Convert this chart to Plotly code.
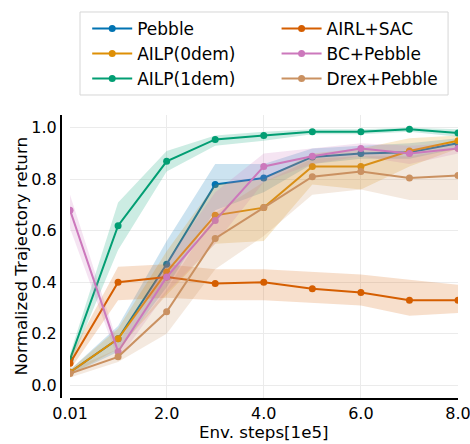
import plotly.graph_objects as go

steps = [0.01, 1, 2, 3, 4, 5, 6, 7, 8]

names = ["Pebble", "AILP(0dem)", "AILP(1dem)", "AIRL+SAC", "BC+Pebble", "Drex+Pebble"]
colors = ["#0173b2", "#de8f05", "#029e73", "#d55e00", "#cc78bc", "#ca9161"]
fills = ["rgba(1,115,178,0.2)", "rgba(222,143,5,0.2)", "rgba(2,158,115,0.2)",
         "rgba(213,94,0,0.2)", "rgba(204,120,188,0.2)", "rgba(202,145,97,0.2)"]

pebble = [0.05, 0.18, 0.47, 0.78, 0.805, 0.887, 0.90, 0.905, 0.94]
pebble_lo = [0.04, 0.13, 0.38, 0.68, 0.75, 0.86, 0.88, 0.88, 0.92]
pebble_hi = [0.06, 0.23, 0.56, 0.86, 0.86, 0.92, 0.93, 0.94, 0.96]

ailp0 = [0.05, 0.18, 0.44, 0.66, 0.69, 0.85, 0.85, 0.91, 0.95]
ailp0_lo = [0.04, 0.14, 0.35, 0.55, 0.56, 0.78, 0.76, 0.85, 0.92]
ailp0_hi = [0.06, 0.22, 0.52, 0.78, 0.80, 0.90, 0.92, 0.96, 0.97]

ailp1 = [0.10, 0.62, 0.87, 0.955, 0.97, 0.985, 0.985, 0.995, 0.98]
ailp1_lo = [0.08, 0.525, 0.83, 0.93, 0.95, 0.975, 0.975, 0.985, 0.965]
ailp1_hi = [0.12, 0.71, 0.91, 0.97, 0.985, 0.995, 0.995, 1.0, 0.995]

airl = [0.085, 0.40, 0.42, 0.395, 0.40, 0.375, 0.36, 0.33, 0.33]
airl_lo = [0.06, 0.33, 0.34, 0.33, 0.33, 0.32, 0.31, 0.27, 0.28]
airl_hi = [0.11, 0.46, 0.47, 0.45, 0.45, 0.44, 0.43, 0.41, 0.39]

bc = [0.68, 0.13, 0.42, 0.64, 0.85, 0.89, 0.92, 0.90, 0.92]
bc_lo = [0.61, 0.10, 0.36, 0.55, 0.79, 0.86, 0.89, 0.86, 0.90]
bc_hi = [0.74, 0.16, 0.48, 0.75, 0.90, 0.92, 0.94, 0.93, 0.94]

drex = [0.045, 0.11, 0.285, 0.57, 0.69, 0.81, 0.83, 0.805, 0.815]
drex_lo = [0.03, 0.09, 0.20, 0.45, 0.58, 0.74, 0.76, 0.72, 0.72]
drex_hi = [0.06, 0.14, 0.37, 0.67, 0.79, 0.88, 0.89, 0.89, 0.92]

series = [
    (pebble, pebble_lo, pebble_hi),
    (ailp0, ailp0_lo, ailp0_hi),
    (ailp1, ailp1_lo, ailp1_hi),
    (airl, airl_lo, airl_hi),
    (bc, bc_lo, bc_hi),
    (drex, drex_lo, drex_hi),
]
# first three methods in the left legend column, the rest in the right one
legend_cols = ["legend", "legend", "legend", "legend2", "legend2", "legend2"]

x_ticks = [0.01, 2, 4, 6, 8]
x_ticktext = ["0.01", "2.0", "4.0", "6.0", "8.0"]
y_ticks = [0.0, 0.2, 0.4, 0.6, 0.8, 1.0]

x_title = "Env. steps[1e5]"
y_title = "Normalized Trajectory return"

fig = go.Figure()
for name, color, fill, (mean, lo, hi), lg in zip(names, colors, fills, series, legend_cols):
    fig.add_trace(go.Scatter(x=steps, y=lo, mode="lines", line=dict(width=0),
                             showlegend=False, hoverinfo="skip"))
    fig.add_trace(go.Scatter(x=steps, y=hi, mode="lines", line=dict(width=0),
                             fill="tonexty", fillcolor=fill,
                             showlegend=False, hoverinfo="skip"))
    fig.add_trace(go.Scatter(x=steps, y=mean, mode="lines+markers", name=name,
                             line=dict(color=color, width=2),
                             marker=dict(color=color, size=7),
                             legend=lg, legendgroup=name))

legend_style = dict(
    xanchor="left", yanchor="top", orientation="v",
    traceorder="grouped", tracegroupgap=0,
    bgcolor="rgba(0,0,0,0)", borderwidth=0,
    font=dict(size=17), itemwidth=40,
)

fig.update_layout(
    template="none",
    width=470, height=444,
    margin=dict(l=61, r=12, t=115, b=46, autoexpand=False),
    paper_bgcolor="white", plot_bgcolor="white",
    font=dict(family="DejaVu Sans", size=16, color="black"),
    legend=dict(x=0.066, y=1.368, **legend_style),
    legend2=dict(x=0.543, y=1.368, **legend_style),
    shapes=[dict(type="rect", xref="paper", yref="paper",
                 x0=0.0479, x1=0.975, y0=1.0707, y1=1.364,
                 line=dict(color="#d6d6d6", width=1), layer="below")],
    annotations=[
        dict(text=x_title, xref="paper", yref="paper", x=0.511, y=-0.120,
             xanchor="center", yanchor="middle", showarrow=False,
             font=dict(size=16.7)),
        dict(text=y_title, xref="paper", yref="paper", x=-0.103, y=0.5,
             xanchor="center", yanchor="middle", showarrow=False,
             textangle=-90, font=dict(size=16.7)),
    ],
    xaxis=dict(
        domain=[0.0227, 1], range=[0.01, 8], automargin=False,
        tickvals=x_ticks, ticktext=x_ticktext, ticklabeloverflow="allow",
        showgrid=True, gridcolor="#ebebeb", gridwidth=1,
        showline=True, linecolor="black", linewidth=2,
        ticks="", zeroline=False,
    ),
    yaxis=dict(
        anchor="free", position=0, range=[-0.05, 1.05], automargin=False,
        tickvals=y_ticks, tickformat=".1f",
        showgrid=True, gridcolor="#ebebeb", gridwidth=1,
        showline=True, linecolor="black", linewidth=2,
        ticks="", zeroline=False,
    ),
)

fig.write_html("out.html")
